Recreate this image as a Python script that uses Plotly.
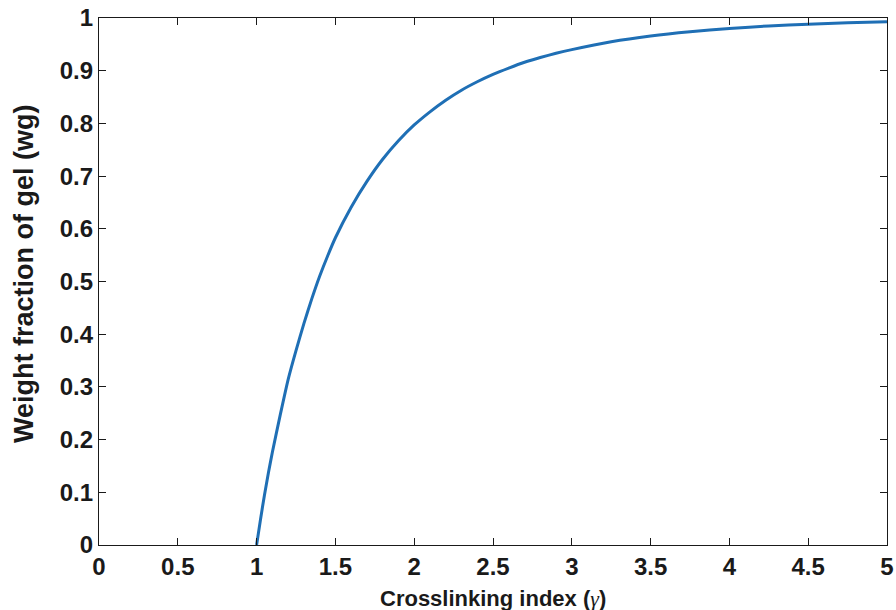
import plotly.graph_objects as go

# Crosslinking index (gamma) and weight fraction of gel
gamma = [1.0, 1.025, 1.05, 1.075, 1.1, 1.15, 1.2, 1.25, 1.3, 1.35, 1.4, 1.45, 1.5, 1.6, 1.7, 1.8,
         1.9, 2.0, 2.1, 2.2, 2.3, 2.4, 2.5, 2.6, 2.7, 2.8, 2.9, 3.0, 3.25, 3.5, 3.75, 4.0,
         4.25, 4.5, 4.75, 5.0]
wg = [0.0, 0.049, 0.095, 0.137, 0.176, 0.247, 0.314, 0.369, 0.420, 0.467, 0.510, 0.548, 0.583,
      0.641, 0.690, 0.732, 0.767, 0.797, 0.822, 0.844, 0.863, 0.879, 0.893, 0.905, 0.916,
      0.925, 0.933, 0.940, 0.955, 0.966, 0.974, 0.980, 0.985, 0.988, 0.991, 0.993]

x_ticks = [0, 0.5, 1, 1.5, 2, 2.5, 3, 3.5, 4, 4.5, 5]
x_tick_labels = ["0", "0.5", "1", "1.5", "2", "2.5", "3", "3.5", "4", "4.5", "5"]
y_ticks = [0, 0.1, 0.2, 0.3, 0.4, 0.5, 0.6, 0.7, 0.8, 0.9, 1]
y_tick_labels = ["0", "0.1", "0.2", "0.3", "0.4", "0.5", "0.6", "0.7", "0.8", "0.9", "1"]

fig = go.Figure()
fig.add_trace(go.Scatter(x=gamma, y=wg, mode="lines",
                         line=dict(color="#1f6fb5", width=3, shape="spline", smoothing=0.5),
                         showlegend=False))

axis_common = dict(showline=True, linecolor="#1a1a1a", linewidth=1.3, mirror="ticks",
                   ticks="inside", ticklen=7, tickwidth=1.2, tickcolor="#1a1a1a",
                   showgrid=False, zeroline=False, automargin=False,
                   tickfont=dict(family="Liberation Sans, Arial", size=24, color="#1a1a1a"))

fig.update_layout(
    width=896, height=610,
    margin=dict(l=99, r=9, t=18, b=65),
    paper_bgcolor="white", plot_bgcolor="white",
    font=dict(family="Liberation Sans, Arial", color="#1a1a1a"),
    xaxis=dict(range=[0, 5], tickvals=x_ticks, ticktext=["<b>%s</b>" % t for t in x_tick_labels],
               **axis_common),
    yaxis=dict(range=[0, 1], tickvals=y_ticks, ticktext=["<b>%s</b>" % t for t in y_tick_labels],
               **axis_common),
    annotations=[
        dict(text="<b>Crosslinking index (</b><span style='font-family:Liberation Serif'><i>γ</i></span><b>)</b>",
             xref="paper", yref="paper", x=0.5, y=-0.1006, xanchor="center", yanchor="middle",
             showarrow=False, font=dict(size=22, family="Liberation Sans, Arial", color="#1a1a1a")),
        dict(text="<b>Weight fraction of gel (wg)</b>", textangle=-90,
             xref="paper", yref="paper", x=-0.0952, y=0.514, xanchor="center", yanchor="middle",
             showarrow=False, font=dict(size=27, family="Liberation Sans, Arial", color="#1a1a1a")),
    ],
)

fig.write_html("out.html")
